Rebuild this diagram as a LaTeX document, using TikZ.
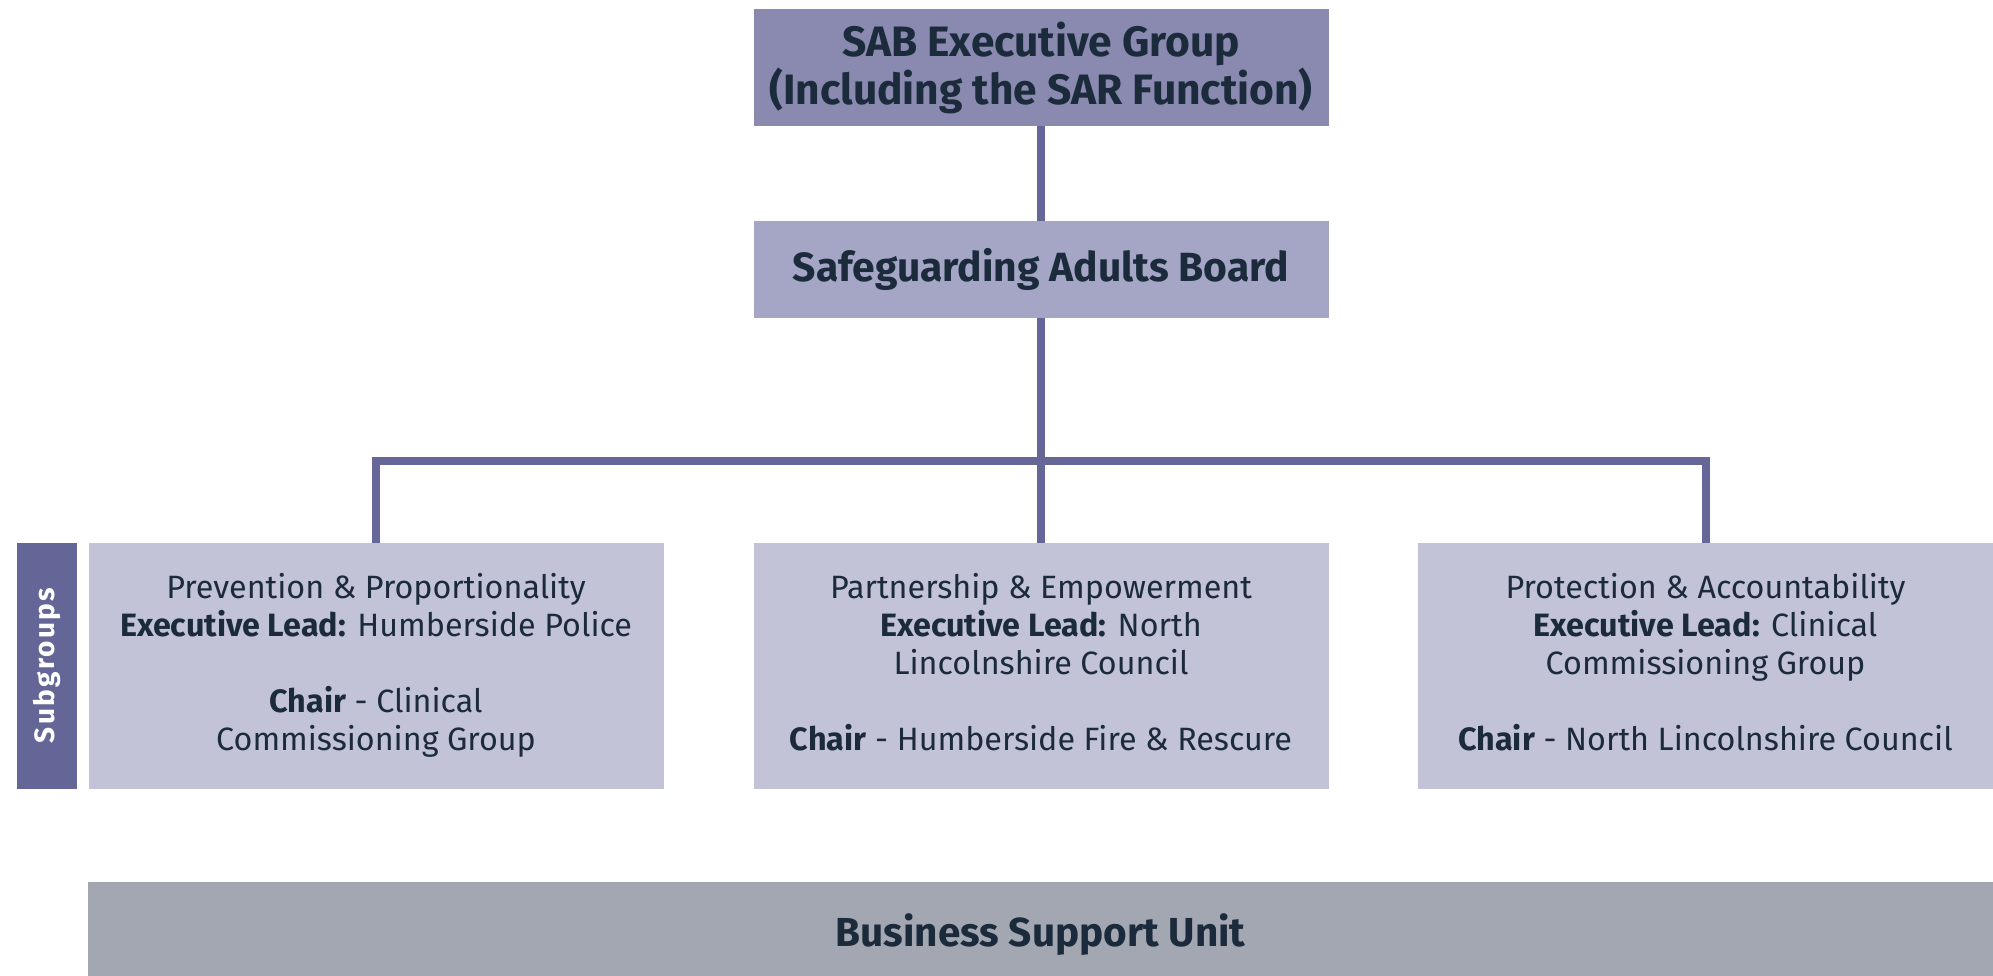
\documentclass[tikz,border=0pt]{standalone}
\usepackage{fontspec}
\setmainfont{Fira Sans}
\definecolor{execfill}{HTML}{8A8AB0}
\definecolor{sabfill}{HTML}{A5A5C5}
\definecolor{subfill}{HTML}{C3C3D8}
\definecolor{barfill}{HTML}{646697}
\definecolor{linecol}{HTML}{666699}
\definecolor{busfill}{HTML}{A3A7B2}
\definecolor{txt}{HTML}{1B2B3C}
\tikzset{
  box/.style={rectangle, inner sep=0pt, outer sep=0pt, align=center, text=txt},
  headbox/.style={box, font=\fontsize{42.5}{48}\selectfont\bfseries},
  subbox/.style={box, fill=subfill, minimum width=575pt, minimum height=246pt, font=\fontsize{32.3}{38}\selectfont},
  conn/.style={draw=linecol, line width=8pt, line join=miter},
}
\begin{document}
\begin{tikzpicture}[x=1pt, y=-1pt]
\useasboundingbox (0,0) rectangle (1993,976);
\node[headbox, fill=execfill, minimum width=575pt, minimum height=117pt] (exec) at (1041,67.5)
  {SAB Executive Group\\(Including the SAR Function)};
\node[headbox, fill=sabfill, minimum width=575pt, minimum height=97pt, font=\fontsize{40.8}{48}\selectfont\bfseries] (sab) at (1041,269.5)
  {Safeguarding Adults Board};
\node[subbox] (left) at (376,665.5)
  {Prevention \& Proportionality\\\textbf{Executive Lead:} Humberside Police\\[38pt]\textbf{Chair} - Clinical\\Commissioning Group};
\node[subbox] (mid) at (1041,665.5)
  {Partnership \& Empowerment\\\textbf{Executive Lead:} North\\Lincolnshire Council\\[38pt]\textbf{Chair} - Humberside Fire \& Rescure\vphantom{g}};
\node[subbox] (right) at (1705.5,665.5)
  {Protection \& Accountability\\\textbf{Executive Lead:} Clinical\\Commissioning Group\\[38pt]\textbf{Chair} - North Lincolnshire Council\vphantom{g}};
\node[box, fill=barfill, minimum width=60pt, minimum height=246pt] (bar) at (46.5,665.5) {};
\node[box, text=white, rotate=90, font=\fontsize{28}{30}\selectfont\bfseries\addfontfeatures{LetterSpace=8}] (barlabel) at (bar.center) {Subgroups};
\node[box, fill=busfill, minimum width=1905pt, minimum height=94pt] (bus) at (1040.5,929) {};
\node[box, font=\fontsize{40.5}{48}\selectfont\bfseries] (buslabel) at ([yshift=-6pt]bus.center) {Business Support Unit};
\coordinate (hline) at (0,460.5);
\draw[conn] (exec.south) -- (sab.north);
\draw[conn] (sab.south) -- (mid.north);
\draw[conn] (left.north) -- (left.north |- hline) -- (right.north |- hline) -- (right.north);
\end{tikzpicture}
\end{document}
